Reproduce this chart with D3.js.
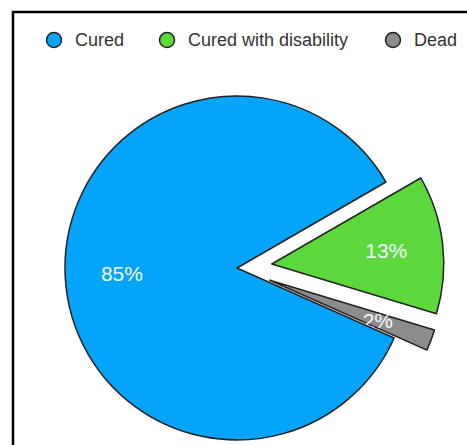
<!DOCTYPE html>
<html>
<head>
<meta charset="utf-8">
<script src="https://cdn.jsdelivr.net/npm/d3@7"></script>
<style>
  body { margin: 0; background: #fff; }
  svg { display: block; font-family: "Liberation Sans", Arial, sans-serif; }
</style>
</head>
<body>
<svg id="chart"></svg>
<script>
// data
var labels = ["Cured with disability", "Dead", "Cured"];
var values = [13, 2, 85];
var legendOrder = ["Cured", "Cured with disability", "Dead"];
var colors = ["#5cd83c", "#8c8c8c", "#04a4fb"];
var explode = [true, true, false];

var width = 467, height = 445;
var cx = 237, cy = 268, radius = 172;

var svg = d3.select("#chart")
    .attr("width", width)
    .attr("height", height);

// frame
svg.append("rect")
    .attr("x", 13).attr("y", 12)
    .attr("width", 470).attr("height", 450)
    .attr("fill", "none")
    .attr("stroke", "#000")
    .attr("stroke-width", 2.5);

var color = d3.scaleOrdinal().domain(labels).range(colors);

var data = labels.map(function(l, i) {
    return { label: l, value: values[i], explode: explode[i] };
});

var pie = d3.pie()
    .value(function(d) { return d.value; })
    .startAngle(Math.PI / 3)
    .endAngle(Math.PI / 3 + 2 * Math.PI)
    .sort(null);

var arc = d3.arc().innerRadius(0).outerRadius(radius);
var labelArc = d3.arc().innerRadius(radius * 0.67).outerRadius(radius * 0.67);

var g = svg.append("g")
    .attr("transform", "translate(" + cx + "," + cy + ")");

var slices = g.selectAll(".slice")
    .data(pie(data))
    .enter().append("g")
    .attr("class", "slice")
    .attr("transform", function(d) {
        if (!d.data.explode) return null;
        var a = (d.startAngle + d.endAngle) / 2;
        var off = 35;
        return "translate(" + (Math.sin(a) * off) + "," + (-Math.cos(a) * off) + ")";
    });

slices.append("path")
    .attr("d", arc)
    .attr("fill", function(d) { return color(d.data.label); })
    .attr("stroke", "#222")
    .attr("stroke-width", 1.5)
    .attr("stroke-linejoin", "round");

slices.append("text")
    .attr("transform", function(d) { return "translate(" + labelArc.centroid(d) + ")"; })
    .attr("text-anchor", "middle")
    .attr("dy", "0.35em")
    .style("fill", "#f4f8ff")
    .style("font-size", "21px")
    .text(function(d) { return d.data.value + "%"; });

// legend
var legendX = [54, 167, 393];
var legend = svg.selectAll(".legend")
    .data(legendOrder)
    .enter().append("g")
    .attr("class", "legend")
    .attr("transform", function(d, i) { return "translate(" + legendX[i] + ",40)"; });

legend.append("circle")
    .attr("r", 7.5)
    .attr("fill", function(d) { return color(d); })
    .attr("stroke", "#222")
    .attr("stroke-width", 1.5);

legend.append("text")
    .attr("x", 21)
    .attr("dy", "0.35em")
    .style("font-size", "18px")
    .style("fill", "#333")
    .text(function(d) { return d; });
</script>
</body>
</html>
